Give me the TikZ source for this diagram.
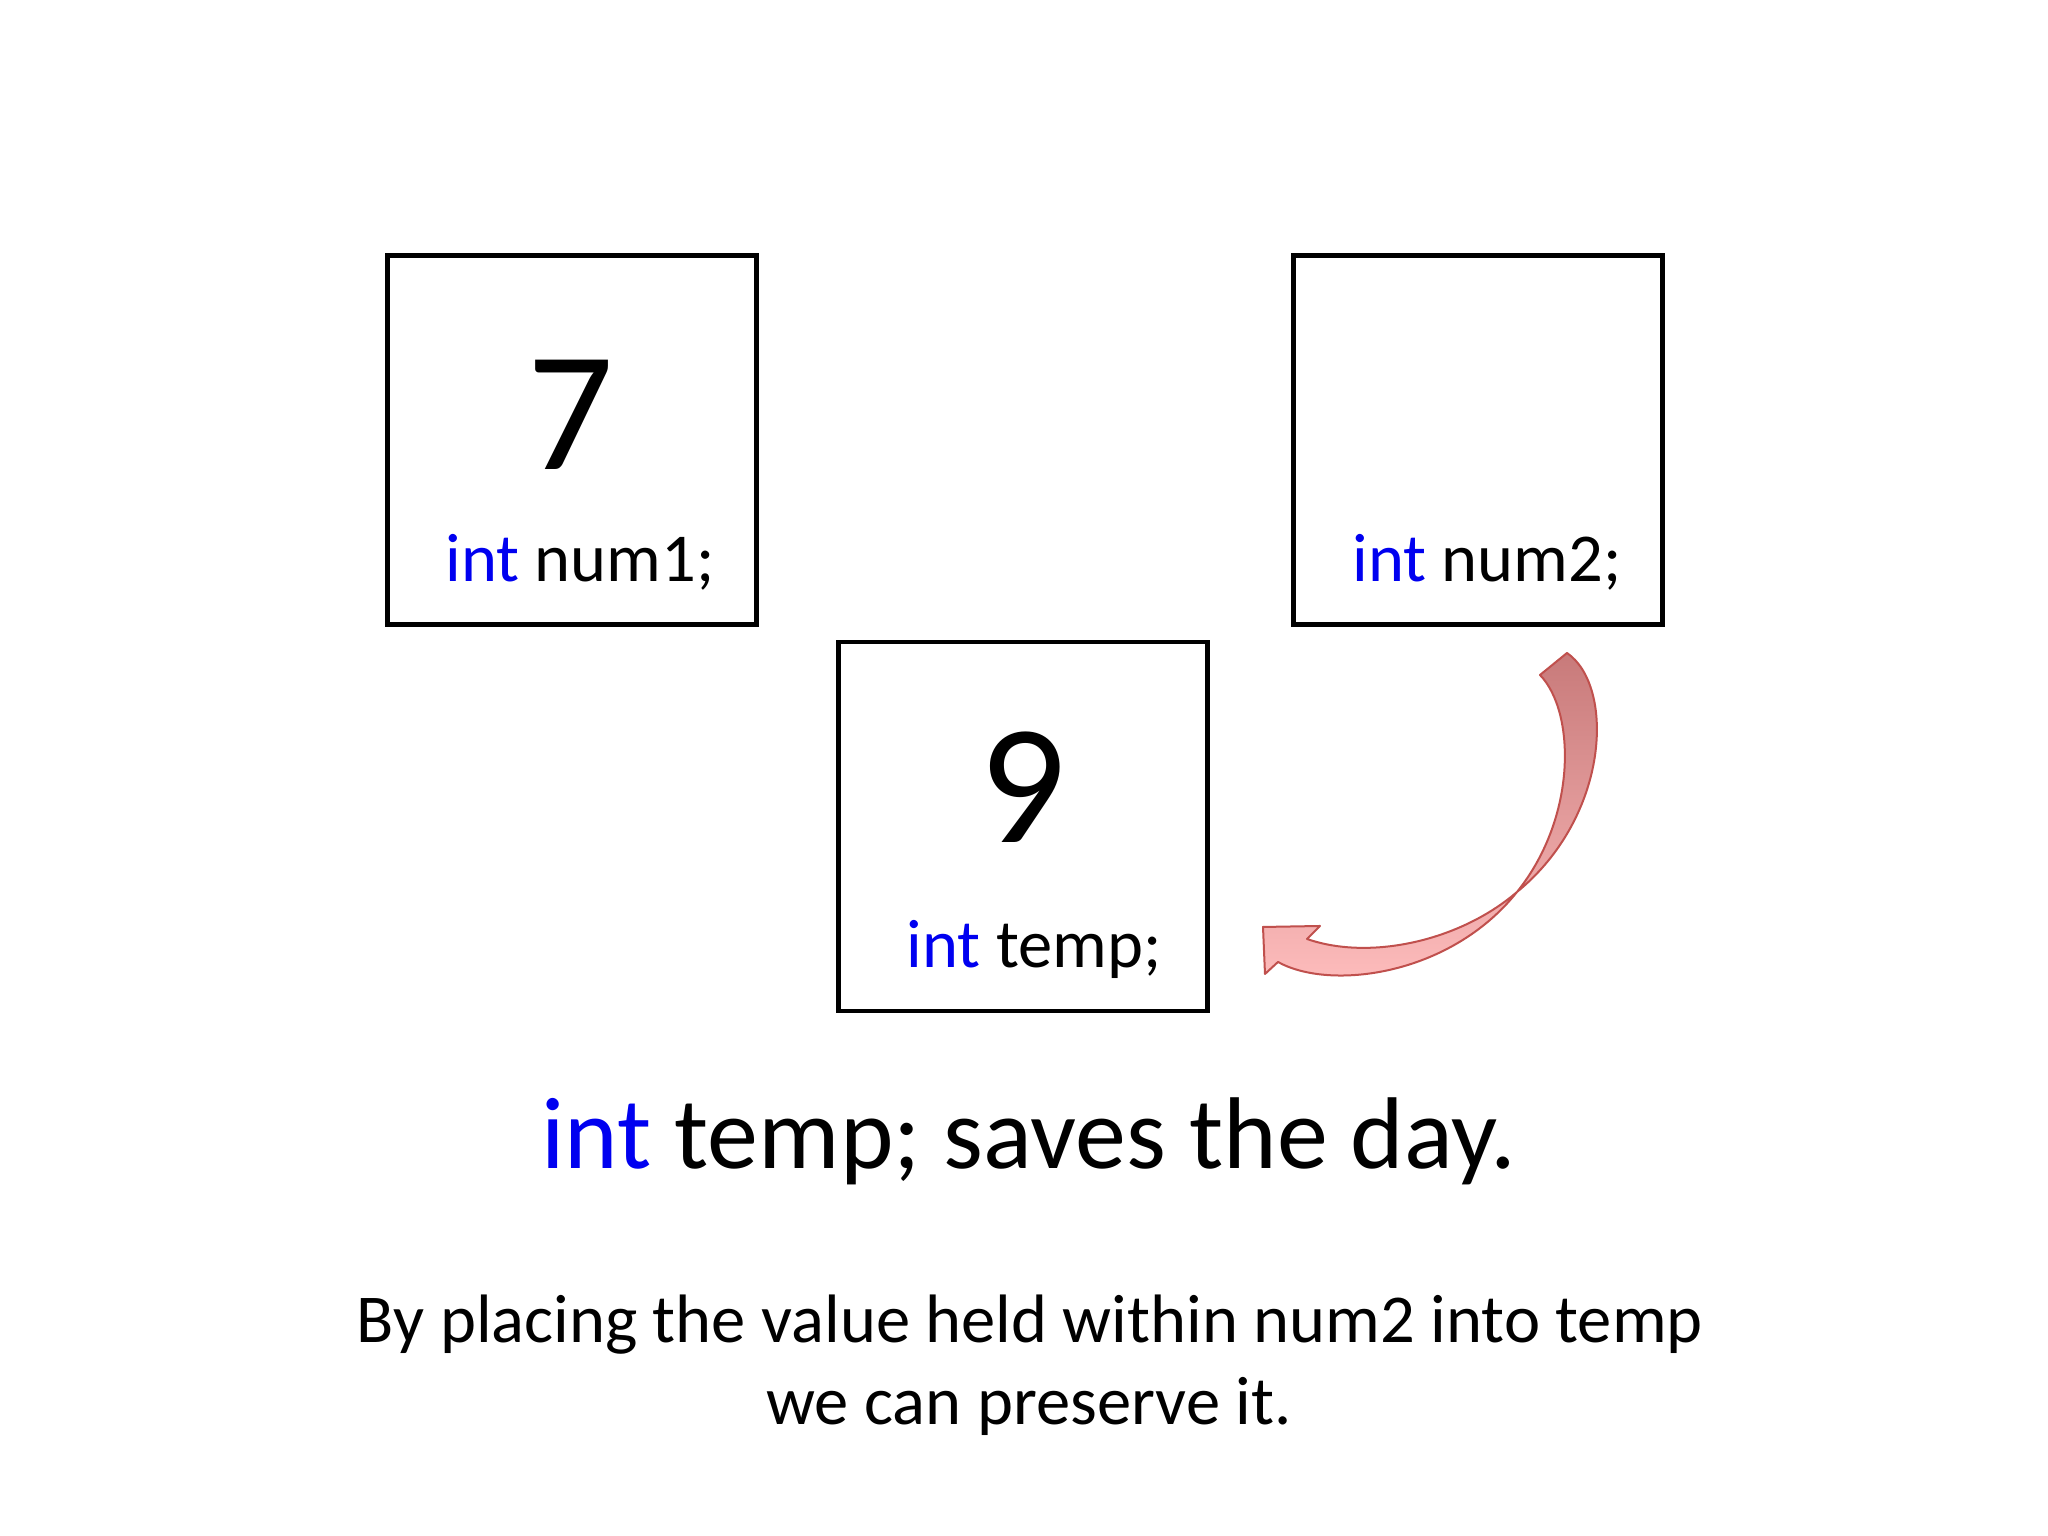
\documentclass[tikz,border=0pt]{standalone}
\usepackage{fontspec}
\setmainfont{Carlito}
\usepackage{tikz}

\definecolor{kwblue}{RGB}{0,0,240}
\definecolor{arrline}{RGB}{192,80,77}
\definecolor{arrtop}{RGB}{200,122,122}
\definecolor{arrbot}{RGB}{255,190,190}

\tikzset{
  varbox/.style={draw, line width=0.045cm, minimum size=3.69cm, inner sep=0pt},
  bigval/.style={font=\fontsize{48.5}{58}\selectfont},
  decl/.style={anchor=base, font=\fontsize{19.5}{23}\selectfont}
}
\newcommand{\kwint}{\textcolor{kwblue}{int}}

\begin{document}
\begin{tikzpicture}
                        \useasboundingbox[fill=white] (0,0) rectangle (20.48,15.36);
                        \node[varbox] (num1) at (5.72,10.96) {};
                        \node[varbox] (num2) at (14.78,10.96) {};
                        \node[varbox] (temp) at (10.23,7.095) {};
                        \node[bigval] (v1) at (5.71,11.21) {7};
                        \node[bigval] (v3) at (10.23,7.49) {9};
                        \node[decl] (d1) at (5.80,9.54) {\kwint{} num1;};
                        \node[decl] (d2) at (14.87,9.54) {\kwint{} num2;};
                        \node[decl] (d3) at (10.34,5.68) {\kwint{} temp;};
                        \node[anchor=base, font=\fontsize{29}{35}\selectfont] (title) at (10.29,3.67) {\kwint{} temp; saves the day.};
                        \node[decl] (line1) at (10.30,1.93) {By placing the value held within num2 into temp};
                        \node[decl] (line2) at (10.29,1.11) {we can preserve it.};
                        % curved block arrow from num2 down to temp
                        \coordinate (tl) at (15.40,8.61);
                        \coordinate (tr) at (15.67,8.83);
                        \coordinate (x) at (15.17,6.44);
                        \coordinate (notch) at (13.07,5.97);
                        \coordinate (w1) at (13.20,6.10);
                        \coordinate (tip) at (12.63,6.09);
                        \coordinate (w2) at (12.65,5.62);
                        \coordinate (lo) at (12.78,5.74);
                        \draw[arrline, line width=0.02cm, line join=round, top color=arrtop, bottom color=arrbot]
                          (tl) .. controls (15.75,8.25) and (15.78,7.20) .. (x)
                          .. controls (14.6,5.95) and (13.7,5.75) .. (notch)
                          -- (w1) -- (tip) -- (w2) -- (lo)
                          .. controls (13.3,5.45) and (14.5,5.6) .. (x)
                          .. controls (16.1,7.2) and (16.15,8.5) .. (tr) -- cycle;
                    \end{tikzpicture}
\end{document}
